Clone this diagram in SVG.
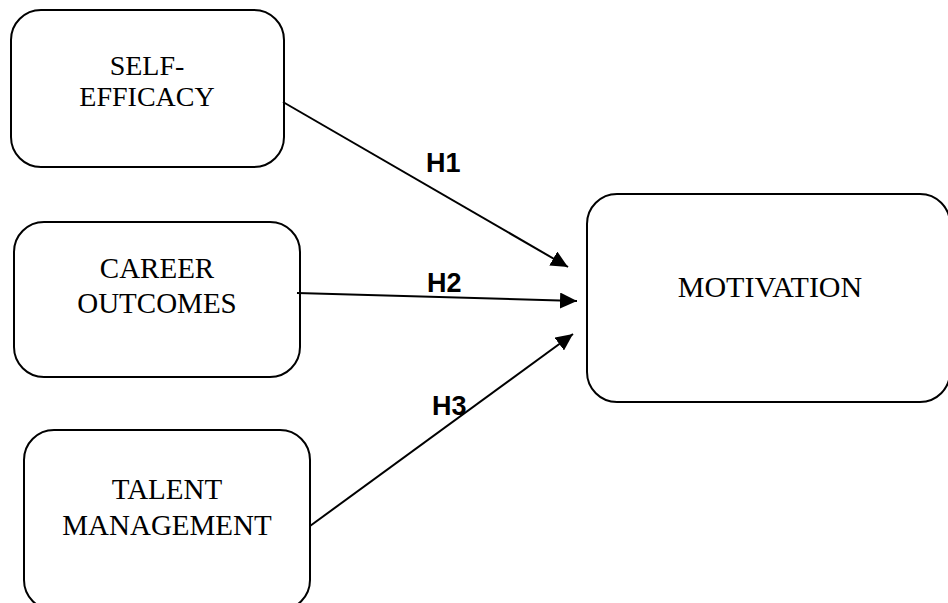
<svg xmlns="http://www.w3.org/2000/svg" width="948" height="603" viewBox="0 0 948 603">
<style>
.box{fill:#fff;stroke:#000;stroke-width:2}
.lbl{font-family:"Liberation Serif","Times New Roman",serif;font-size:29px;fill:#000;text-anchor:middle}
.h{font-family:"Liberation Sans",Arial,sans-serif;font-size:27px;font-weight:bold;fill:#000}
.conn{stroke:#000;stroke-width:2;fill:none;marker-end:url(#ah)}
</style>
<defs>
<marker id="ah" markerUnits="userSpaceOnUse" markerWidth="18" markerHeight="16" refX="17" refY="8" orient="auto">
<path d="M0,0 L17,8 L0,16 Z" fill="#000"/>
</marker>
</defs>
<rect width="948" height="603" fill="#fff"/>
<g id="node-self-efficacy">
<rect class="box" x="11" y="10" width="273" height="157" rx="30"/>
<text class="lbl" x="147" y="75" style="font-size:28px">SELF-</text>
<text class="lbl" x="147" y="106" style="font-size:28px">EFFICACY</text>
</g>
<g id="node-career-outcomes">
<rect class="box" x="14" y="222" width="286" height="155" rx="30"/>
<text class="lbl" x="157" y="278">CAREER</text>
<text class="lbl" x="157" y="313">OUTCOMES</text>
</g>
<g id="node-talent-management">
<rect class="box" x="24" y="430" width="286" height="180" rx="30"/>
<text class="lbl" x="167" y="499">TALENT</text>
<text class="lbl" x="167" y="535">MANAGEMENT</text>
</g>
<g id="node-motivation">
<rect class="box" x="587" y="194" width="363" height="208" rx="30"/>
<text class="lbl" x="770" y="297" style="font-size:30px">MOTIVATION</text>
</g>
<g id="connectors">
<line class="conn" x1="283" y1="102" x2="568" y2="267"/>
<line class="conn" x1="297" y1="293" x2="577" y2="301"/>
<line class="conn" x1="310" y1="526" x2="573" y2="334"/>
<text class="h" x="426" y="172">H1</text>
<text class="h" x="427" y="292">H2</text>
<text class="h" x="432" y="415">H3</text>
</g>
</svg>
